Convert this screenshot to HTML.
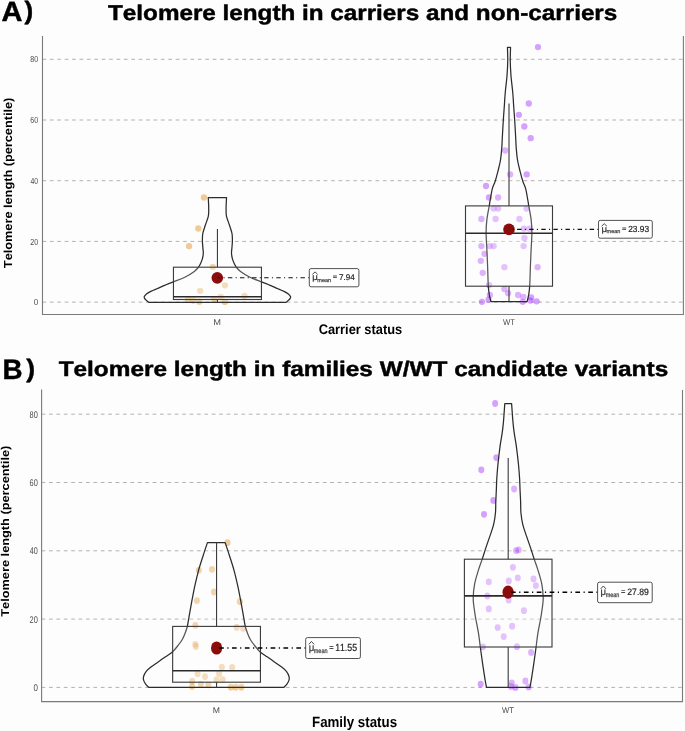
<!DOCTYPE html><html><head><meta charset="utf-8"><style>html,body{margin:0;padding:0;background:#fdfdfd;}svg{display:block;will-change:transform;font-family:"Liberation Sans",sans-serif;font-kerning:none;text-rendering:geometricPrecision;font-variant-ligatures:none;}</style></head><body>
<svg width="685" height="731" viewBox="0 0 685 731">
<rect width="685" height="731" fill="#fdfdfd"/>
<text x="0" y="0" font-size="27.835" font-weight="bold" fill="#000" stroke="#000" stroke-width="0.45" stroke-linejoin="round" transform="translate(1.503,21.375) scale(1.0415,1)">A</text>
<text x="0" y="0" font-size="25.157" font-weight="bold" fill="#000" stroke="#000" stroke-width="0.45" stroke-linejoin="round" transform="translate(24.400,19.354) scale(1.0352,1)">)</text>
<text x="0" y="0" font-size="21.439" font-weight="bold" fill="#000" stroke="#000" stroke-width="0.45" stroke-linejoin="round" transform="translate(108.053,20.000) scale(1.1316,1)">Telomere length in carriers and non-carriers</text>
<text x="0" y="0" font-size="27.980" font-weight="bold" fill="#000" stroke="#000" stroke-width="0.45" stroke-linejoin="round" transform="translate(2.566,378.775) scale(0.9933,1)">B</text>
<text x="0" y="0" font-size="25.265" font-weight="bold" fill="#000" stroke="#000" stroke-width="0.45" stroke-linejoin="round" transform="translate(26.199,377.232) scale(1.0448,1)">)</text>
<text x="0" y="0" font-size="21.148" font-weight="bold" fill="#000" stroke="#000" stroke-width="0.45" stroke-linejoin="round" transform="translate(58.651,375.700) scale(1.1539,1)">Telomere length in families W/WT candidate variants</text>
<line x1="42.50" y1="302.10" x2="682.60" y2="302.10" stroke="#b5b1ab" stroke-width="1" stroke-dasharray="3.7 3.7"/><line x1="42.50" y1="241.40" x2="682.60" y2="241.40" stroke="#b5b1ab" stroke-width="1" stroke-dasharray="3.7 3.7"/><line x1="42.50" y1="180.70" x2="682.60" y2="180.70" stroke="#b5b1ab" stroke-width="1" stroke-dasharray="3.7 3.7"/><line x1="42.50" y1="120.00" x2="682.60" y2="120.00" stroke="#b5b1ab" stroke-width="1" stroke-dasharray="3.7 3.7"/><line x1="42.50" y1="59.30" x2="682.60" y2="59.30" stroke="#b5b1ab" stroke-width="1" stroke-dasharray="3.7 3.7"/>
<text x="0" y="0" font-size="8.757" font-weight="normal" fill="#4d4d4d" transform="translate(33.689,305.214) scale(0.9078,1)">0</text>
<text x="0" y="0" font-size="8.757" font-weight="normal" fill="#4d4d4d" transform="translate(30.246,244.514) scale(0.8038,1)">20</text>
<text x="0" y="0" font-size="8.757" font-weight="normal" fill="#4d4d4d" transform="translate(30.443,183.814) scale(0.7828,1)">40</text>
<text x="0" y="0" font-size="8.757" font-weight="normal" fill="#4d4d4d" transform="translate(30.242,123.114) scale(0.8041,1)">60</text>
<text x="0" y="0" font-size="8.757" font-weight="normal" fill="#4d4d4d" transform="translate(30.296,62.414) scale(0.7984,1)">80</text>
<text x="0" y="0" font-size="8.430" font-weight="normal" fill="#4d4d4d" transform="translate(213.340,325.000) scale(1.0994,1)">M</text>
<text x="0" y="0" font-size="8.430" font-weight="normal" fill="#4d4d4d" transform="translate(503.066,324.800) scale(0.9164,1)">WT</text>
<text x="0" y="0" font-size="13.953" font-weight="bold" fill="#000" transform="translate(318.673,333.800) scale(0.9208,1)">Carrier status</text>
<text x="0" y="0" font-size="11.628" font-weight="bold" fill="#000" transform="translate(11.900,268.143) rotate(-90) scale(1.0967,1)">Telomere length (percentile)</text>
<ellipse cx="203.90" cy="197.50" rx="3.15" ry="3.15" fill="#da8000" fill-opacity="0.4"/><ellipse cx="198.30" cy="228.50" rx="3.15" ry="3.15" fill="#da8000" fill-opacity="0.4"/><ellipse cx="189.10" cy="246.20" rx="3.15" ry="3.15" fill="#da8000" fill-opacity="0.4"/><ellipse cx="212.80" cy="266.90" rx="3.15" ry="3.15" fill="#da8000" fill-opacity="0.4"/><ellipse cx="224.90" cy="285.30" rx="3.15" ry="3.15" fill="#da8000" fill-opacity="0.4"/><ellipse cx="200.10" cy="290.80" rx="3.15" ry="3.15" fill="#da8000" fill-opacity="0.4"/><ellipse cx="244.50" cy="296.00" rx="3.15" ry="3.15" fill="#da8000" fill-opacity="0.4"/><ellipse cx="188.00" cy="299.40" rx="3.15" ry="3.15" fill="#da8000" fill-opacity="0.4"/><ellipse cx="193.30" cy="300.60" rx="3.15" ry="3.15" fill="#da8000" fill-opacity="0.4"/><ellipse cx="199.30" cy="301.70" rx="3.15" ry="3.15" fill="#da8000" fill-opacity="0.4"/><ellipse cx="214.10" cy="298.90" rx="3.15" ry="3.15" fill="#da8000" fill-opacity="0.4"/><ellipse cx="220.70" cy="297.00" rx="3.15" ry="3.15" fill="#da8000" fill-opacity="0.4"/><ellipse cx="224.90" cy="301.90" rx="3.15" ry="3.15" fill="#da8000" fill-opacity="0.4"/>
<ellipse cx="538.00" cy="47.10" rx="3.15" ry="3.15" fill="#9814ff" fill-opacity="0.4"/><ellipse cx="528.80" cy="103.50" rx="3.15" ry="3.15" fill="#9814ff" fill-opacity="0.4"/><ellipse cx="518.90" cy="114.80" rx="3.15" ry="3.15" fill="#9814ff" fill-opacity="0.4"/><ellipse cx="524.30" cy="126.50" rx="3.15" ry="3.15" fill="#9814ff" fill-opacity="0.4"/><ellipse cx="530.70" cy="138.20" rx="3.15" ry="3.15" fill="#9814ff" fill-opacity="0.4"/><ellipse cx="505.20" cy="150.50" rx="3.15" ry="3.15" fill="#9814ff" fill-opacity="0.4"/><ellipse cx="510.10" cy="174.40" rx="3.15" ry="3.15" fill="#9814ff" fill-opacity="0.4"/><ellipse cx="526.70" cy="174.40" rx="3.15" ry="3.15" fill="#9814ff" fill-opacity="0.4"/><ellipse cx="486.00" cy="186.00" rx="3.15" ry="3.15" fill="#9814ff" fill-opacity="0.4"/><ellipse cx="489.00" cy="197.50" rx="3.15" ry="3.15" fill="#9814ff" fill-opacity="0.4"/><ellipse cx="498.10" cy="197.50" rx="3.15" ry="3.15" fill="#9814ff" fill-opacity="0.4"/><ellipse cx="493.60" cy="208.60" rx="3.15" ry="3.15" fill="#9814ff" fill-opacity="0.4"/><ellipse cx="498.20" cy="208.60" rx="3.15" ry="3.15" fill="#9814ff" fill-opacity="0.4"/><ellipse cx="526.60" cy="208.60" rx="3.15" ry="3.15" fill="#9814ff" fill-opacity="0.4"/><ellipse cx="481.40" cy="219.00" rx="3.15" ry="3.15" fill="#9814ff" fill-opacity="0.4"/><ellipse cx="495.60" cy="219.00" rx="3.15" ry="3.15" fill="#9814ff" fill-opacity="0.4"/><ellipse cx="519.40" cy="219.00" rx="3.15" ry="3.15" fill="#9814ff" fill-opacity="0.4"/><ellipse cx="523.90" cy="228.70" rx="3.15" ry="3.15" fill="#9814ff" fill-opacity="0.4"/><ellipse cx="529.50" cy="228.70" rx="3.15" ry="3.15" fill="#9814ff" fill-opacity="0.4"/><ellipse cx="524.40" cy="238.00" rx="3.15" ry="3.15" fill="#9814ff" fill-opacity="0.4"/><ellipse cx="481.40" cy="246.10" rx="3.15" ry="3.15" fill="#9814ff" fill-opacity="0.4"/><ellipse cx="489.70" cy="246.10" rx="3.15" ry="3.15" fill="#9814ff" fill-opacity="0.4"/><ellipse cx="493.60" cy="246.10" rx="3.15" ry="3.15" fill="#9814ff" fill-opacity="0.4"/><ellipse cx="523.60" cy="246.10" rx="3.15" ry="3.15" fill="#9814ff" fill-opacity="0.4"/><ellipse cx="484.50" cy="253.80" rx="3.15" ry="3.15" fill="#9814ff" fill-opacity="0.4"/><ellipse cx="480.80" cy="260.80" rx="3.15" ry="3.15" fill="#9814ff" fill-opacity="0.4"/><ellipse cx="504.40" cy="267.20" rx="3.15" ry="3.15" fill="#9814ff" fill-opacity="0.4"/><ellipse cx="537.60" cy="267.20" rx="3.15" ry="3.15" fill="#9814ff" fill-opacity="0.4"/><ellipse cx="482.70" cy="272.80" rx="3.15" ry="3.15" fill="#9814ff" fill-opacity="0.4"/><ellipse cx="489.10" cy="285.10" rx="3.15" ry="3.15" fill="#9814ff" fill-opacity="0.4"/><ellipse cx="504.40" cy="289.00" rx="3.15" ry="3.15" fill="#9814ff" fill-opacity="0.4"/><ellipse cx="508.10" cy="293.20" rx="3.15" ry="3.15" fill="#9814ff" fill-opacity="0.4"/><ellipse cx="489.90" cy="295.00" rx="3.15" ry="3.15" fill="#9814ff" fill-opacity="0.4"/><ellipse cx="518.10" cy="295.00" rx="3.15" ry="3.15" fill="#9814ff" fill-opacity="0.4"/><ellipse cx="523.30" cy="296.90" rx="3.15" ry="3.15" fill="#9814ff" fill-opacity="0.4"/><ellipse cx="531.10" cy="297.40" rx="3.15" ry="3.15" fill="#9814ff" fill-opacity="0.4"/><ellipse cx="488.60" cy="299.70" rx="3.15" ry="3.15" fill="#9814ff" fill-opacity="0.4"/><ellipse cx="482.00" cy="301.80" rx="3.15" ry="3.15" fill="#9814ff" fill-opacity="0.4"/><ellipse cx="522.70" cy="301.80" rx="3.15" ry="3.15" fill="#9814ff" fill-opacity="0.4"/><ellipse cx="530.40" cy="300.60" rx="3.15" ry="3.15" fill="#9814ff" fill-opacity="0.4"/><ellipse cx="536.60" cy="301.30" rx="3.15" ry="3.15" fill="#9814ff" fill-opacity="0.4"/>
<path d="M208.25,197.60 C208.31,198.67 208.52,201.85 208.60,204.00 C208.68,206.15 208.75,208.45 208.70,210.50 C208.65,212.55 208.87,213.83 208.30,216.30 C207.73,218.77 206.22,222.43 205.30,225.30 C204.38,228.17 203.28,230.90 202.80,233.50 C202.32,236.10 202.38,238.47 202.40,240.90 C202.42,243.33 202.75,246.05 202.90,248.10 C203.05,250.15 203.40,251.37 203.30,253.20 C203.20,255.03 202.82,257.27 202.30,259.10 C201.78,260.93 200.83,262.87 200.20,264.20 C199.57,265.53 199.48,265.88 198.50,267.10 C197.52,268.32 196.58,269.80 194.30,271.50 C192.02,273.20 188.17,275.62 184.80,277.30 C181.43,278.98 176.88,280.52 174.10,281.60 C171.32,282.68 170.07,283.00 168.10,283.80 C166.13,284.60 164.18,285.58 162.30,286.40 C160.42,287.22 158.72,287.87 156.80,288.70 C154.88,289.53 152.53,290.52 150.80,291.40 C149.07,292.28 147.48,293.13 146.40,294.00 C145.32,294.87 144.60,295.87 144.30,296.60 C144.00,297.33 144.25,297.77 144.60,298.40 C144.95,299.03 145.70,299.75 146.40,300.40 C147.10,301.05 148.40,301.98 148.80,302.30 L286.00,302.30 C286.40,301.98 287.70,301.05 288.40,300.40 C289.10,299.75 289.85,299.03 290.20,298.40 C290.55,297.77 290.80,297.33 290.50,296.60 C290.20,295.87 289.48,294.87 288.40,294.00 C287.32,293.13 285.73,292.28 284.00,291.40 C282.27,290.52 279.92,289.53 278.00,288.70 C276.08,287.87 274.38,287.22 272.50,286.40 C270.62,285.58 268.67,284.60 266.70,283.80 C264.73,283.00 263.48,282.68 260.70,281.60 C257.92,280.52 253.37,278.98 250.00,277.30 C246.63,275.62 242.78,273.20 240.50,271.50 C238.22,269.80 237.28,268.32 236.30,267.10 C235.32,265.88 235.23,265.53 234.60,264.20 C233.97,262.87 233.02,260.93 232.50,259.10 C231.98,257.27 231.60,255.03 231.50,253.20 C231.40,251.37 231.75,250.15 231.90,248.10 C232.05,246.05 232.38,243.33 232.40,240.90 C232.42,238.47 232.48,236.10 232.00,233.50 C231.52,230.90 230.42,228.17 229.50,225.30 C228.58,222.43 227.07,218.77 226.50,216.30 C225.93,213.83 226.15,212.55 226.10,210.50 C226.05,208.45 226.12,206.15 226.20,204.00 C226.28,201.85 226.49,198.67 226.55,197.60 Z" fill="#fff" fill-opacity="0.2" stroke="#2c2c2c" stroke-width="1.25" stroke-linejoin="round"/>
<path d="M507.45,47.30 C507.50,49.58 507.82,56.22 507.75,61.00 C507.68,65.78 507.38,71.17 507.00,76.00 C506.62,80.83 505.87,86.27 505.50,90.00 C505.13,93.73 504.98,95.90 504.80,98.40 C504.62,100.90 504.60,102.07 504.40,105.00 C504.20,107.93 503.85,112.33 503.60,116.00 C503.35,119.67 503.12,123.33 502.90,127.00 C502.68,130.67 502.50,134.33 502.30,138.00 C502.10,141.67 502.00,145.33 501.70,149.00 C501.40,152.67 501.10,156.40 500.50,160.00 C499.90,163.60 499.00,167.02 498.10,170.60 C497.20,174.18 496.07,178.47 495.10,181.50 C494.13,184.53 493.12,185.72 492.30,188.80 C491.48,191.88 490.72,197.13 490.20,200.00 C489.68,202.87 489.75,202.77 489.20,206.00 C488.65,209.23 487.42,214.97 486.90,219.40 C486.38,223.83 486.10,227.50 486.10,232.60 C486.10,237.70 486.65,244.38 486.90,250.00 C487.15,255.62 487.37,260.30 487.60,266.30 C487.83,272.30 488.00,281.18 488.30,286.00 C488.60,290.82 488.97,292.60 489.40,295.20 C489.83,297.80 490.65,300.53 490.90,301.60 L527.10,301.60 C527.35,300.53 528.17,297.80 528.60,295.20 C529.03,292.60 529.40,290.82 529.70,286.00 C530.00,281.18 530.17,272.30 530.40,266.30 C530.63,260.30 530.85,255.62 531.10,250.00 C531.35,244.38 531.90,237.70 531.90,232.60 C531.90,227.50 531.62,223.83 531.10,219.40 C530.58,214.97 529.35,209.23 528.80,206.00 C528.25,202.77 528.32,202.87 527.80,200.00 C527.28,197.13 526.52,191.88 525.70,188.80 C524.88,185.72 523.87,184.53 522.90,181.50 C521.93,178.47 520.80,174.18 519.90,170.60 C519.00,167.02 518.10,163.60 517.50,160.00 C516.90,156.40 516.60,152.67 516.30,149.00 C516.00,145.33 515.90,141.67 515.70,138.00 C515.50,134.33 515.32,130.67 515.10,127.00 C514.88,123.33 514.65,119.67 514.40,116.00 C514.15,112.33 513.80,107.93 513.60,105.00 C513.40,102.07 513.38,100.90 513.20,98.40 C513.02,95.90 512.87,93.73 512.50,90.00 C512.13,86.27 511.38,80.83 511.00,76.00 C510.62,71.17 510.32,65.78 510.25,61.00 C510.18,56.22 510.50,49.58 510.55,47.30 Z" fill="#fff" fill-opacity="0.2" stroke="#2c2c2c" stroke-width="1.25" stroke-linejoin="round"/>
<line x1="217.45" y1="229.00" x2="217.45" y2="267.20" stroke="#3c3c3c" stroke-width="1.12"/><line x1="217.45" y1="299.50" x2="217.45" y2="302.30" stroke="#3c3c3c" stroke-width="1.12"/><rect x="173.45" y="267.20" width="88.00" height="32.30" fill="#fff" fill-opacity="0.2" stroke="#3c3c3c" stroke-width="1.12"/><line x1="173.45" y1="296.70" x2="261.45" y2="296.70" stroke="#2a2a2a" stroke-width="1.60"/>
<line x1="509.00" y1="103.50" x2="509.00" y2="205.90" stroke="#3c3c3c" stroke-width="1.12"/><line x1="509.00" y1="286.20" x2="509.00" y2="301.60" stroke="#3c3c3c" stroke-width="1.12"/><rect x="465.50" y="205.90" width="87.00" height="80.30" fill="#fff" fill-opacity="0.2" stroke="#3c3c3c" stroke-width="1.12"/><line x1="465.50" y1="233.20" x2="552.50" y2="233.20" stroke="#2a2a2a" stroke-width="1.60"/>
<ellipse cx="217.30" cy="277.80" rx="5.80" ry="5.90" fill="#8b0d0b"/><line x1="309.30" y1="277.80" x2="218.20" y2="277.80" stroke="#111" stroke-width="1.10" stroke-dasharray="1.10 3.30 4.40 3.30"/><rect x="309.30" y="268.60" width="49.60" height="18.20" rx="1.7" fill="#fff" stroke="#333" stroke-width="0.85"/><path d="M312.40,274.40 L315.05,271.90 L317.70,274.40" fill="none" stroke="#333" stroke-width="0.9"/><text x="0" y="0" font-size="9.025" font-weight="normal" fill="#333" stroke="#333" stroke-width="0.20" stroke-linejoin="round" transform="translate(312.250,279.868) scale(1.0685,1)">μ</text><text x="0" y="0" font-size="5.567" font-weight="normal" fill="#444" stroke="#444" stroke-width="0.25" stroke-linejoin="round" transform="translate(317.359,281.621) scale(0.9890,1)">mean</text><text x="0" y="0" font-size="6.827" font-weight="normal" fill="#333" stroke="#333" stroke-width="0.10" stroke-linejoin="round" transform="translate(332.778,278.997) scale(1.1156,1)">=</text><text x="0" y="0" font-size="8.333" font-weight="normal" fill="#222" stroke="#222" stroke-width="0.20" stroke-linejoin="round" transform="translate(338.985,279.619) scale(0.9712,1)">7.94</text>
<ellipse cx="509.00" cy="229.40" rx="5.80" ry="5.90" fill="#8b0d0b"/><line x1="598.50" y1="229.40" x2="512.00" y2="229.40" stroke="#111" stroke-width="1.10" stroke-dasharray="1.10 3.30 4.40 3.30"/><rect x="598.50" y="220.40" width="53.80" height="17.80" rx="1.7" fill="#fff" stroke="#333" stroke-width="0.85"/><path d="M601.60,226.20 L604.25,223.70 L606.90,226.20" fill="none" stroke="#333" stroke-width="0.9"/><text x="0" y="0" font-size="9.025" font-weight="normal" fill="#333" stroke="#333" stroke-width="0.20" stroke-linejoin="round" transform="translate(601.450,231.668) scale(1.0685,1)">μ</text><text x="0" y="0" font-size="5.567" font-weight="normal" fill="#444" stroke="#444" stroke-width="0.25" stroke-linejoin="round" transform="translate(606.559,233.421) scale(0.9890,1)">mean</text><text x="0" y="0" font-size="6.827" font-weight="normal" fill="#333" stroke="#333" stroke-width="0.10" stroke-linejoin="round" transform="translate(621.978,230.797) scale(1.1156,1)">=</text><text x="0" y="0" font-size="8.757" font-weight="normal" fill="#222" stroke="#222" stroke-width="0.20" stroke-linejoin="round" transform="translate(628.180,231.814) scale(0.9531,1)">23.93</text>
<path d="M42.50,36.00 V314.50 H683.40 V36.00" fill="none" stroke="#7a7a7a" stroke-width="1.1"/>
<line x1="41.60" y1="687.40" x2="681.70" y2="687.40" stroke="#b5b1ab" stroke-width="1" stroke-dasharray="3.7 3.7"/><line x1="41.60" y1="619.10" x2="681.70" y2="619.10" stroke="#b5b1ab" stroke-width="1" stroke-dasharray="3.7 3.7"/><line x1="41.60" y1="550.80" x2="681.70" y2="550.80" stroke="#b5b1ab" stroke-width="1" stroke-dasharray="3.7 3.7"/><line x1="41.60" y1="482.50" x2="681.70" y2="482.50" stroke="#b5b1ab" stroke-width="1" stroke-dasharray="3.7 3.7"/><line x1="41.60" y1="414.20" x2="681.70" y2="414.20" stroke="#b5b1ab" stroke-width="1" stroke-dasharray="3.7 3.7"/>
<text x="0" y="0" font-size="9.746" font-weight="normal" fill="#4d4d4d" transform="translate(33.389,690.805) scale(0.8157,1)">0</text>
<text x="0" y="0" font-size="9.746" font-weight="normal" fill="#4d4d4d" transform="translate(29.526,622.505) scale(0.7623,1)">20</text>
<text x="0" y="0" font-size="9.746" font-weight="normal" fill="#4d4d4d" transform="translate(29.734,554.205) scale(0.7425,1)">40</text>
<text x="0" y="0" font-size="9.746" font-weight="normal" fill="#4d4d4d" transform="translate(29.523,485.905) scale(0.7627,1)">60</text>
<text x="0" y="0" font-size="9.746" font-weight="normal" fill="#4d4d4d" transform="translate(29.579,417.605) scale(0.7573,1)">80</text>
<text x="0" y="0" font-size="8.285" font-weight="normal" fill="#4d4d4d" transform="translate(212.789,712.800) scale(1.0465,1)">M</text>
<text x="0" y="0" font-size="8.285" font-weight="normal" fill="#4d4d4d" transform="translate(502.066,712.800) scale(0.9325,1)">WT</text>
<text x="0" y="0" font-size="14.971" font-weight="bold" fill="#000" transform="translate(312.010,726.500) scale(0.8887,1)">Family status</text>
<text x="0" y="0" font-size="11.337" font-weight="bold" fill="#000" transform="translate(8.800,616.744) rotate(-90) scale(1.1275,1)">Telomere length (percentile)</text>
<ellipse cx="227.50" cy="542.70" rx="3.00" ry="3.40" fill="#da8000" fill-opacity="0.4"/><ellipse cx="198.90" cy="570.30" rx="3.00" ry="3.40" fill="#da8000" fill-opacity="0.4"/><ellipse cx="212.00" cy="569.30" rx="3.00" ry="3.40" fill="#da8000" fill-opacity="0.4"/><ellipse cx="213.90" cy="592.00" rx="3.00" ry="3.40" fill="#da8000" fill-opacity="0.4"/><ellipse cx="196.90" cy="600.60" rx="3.00" ry="3.40" fill="#da8000" fill-opacity="0.4"/><ellipse cx="239.80" cy="601.70" rx="3.00" ry="3.40" fill="#da8000" fill-opacity="0.4"/><ellipse cx="195.30" cy="625.50" rx="3.00" ry="3.40" fill="#da8000" fill-opacity="0.4"/><ellipse cx="236.70" cy="627.40" rx="3.00" ry="3.40" fill="#da8000" fill-opacity="0.4"/><ellipse cx="243.20" cy="628.40" rx="3.00" ry="3.40" fill="#da8000" fill-opacity="0.4"/><ellipse cx="195.30" cy="644.30" rx="3.00" ry="3.40" fill="#da8000" fill-opacity="0.4"/><ellipse cx="195.90" cy="646.50" rx="3.00" ry="3.40" fill="#da8000" fill-opacity="0.4"/><ellipse cx="221.90" cy="667.10" rx="3.00" ry="3.40" fill="#da8000" fill-opacity="0.4"/><ellipse cx="232.10" cy="667.40" rx="3.00" ry="3.40" fill="#da8000" fill-opacity="0.4"/><ellipse cx="197.60" cy="673.70" rx="3.00" ry="3.40" fill="#da8000" fill-opacity="0.4"/><ellipse cx="205.00" cy="676.60" rx="3.00" ry="3.40" fill="#da8000" fill-opacity="0.4"/><ellipse cx="219.10" cy="673.70" rx="3.00" ry="3.40" fill="#da8000" fill-opacity="0.4"/><ellipse cx="216.60" cy="679.90" rx="3.00" ry="3.40" fill="#da8000" fill-opacity="0.4"/><ellipse cx="222.70" cy="679.60" rx="3.00" ry="3.40" fill="#da8000" fill-opacity="0.4"/><ellipse cx="192.10" cy="681.20" rx="3.00" ry="3.40" fill="#da8000" fill-opacity="0.4"/><ellipse cx="192.10" cy="686.30" rx="3.00" ry="3.40" fill="#da8000" fill-opacity="0.4"/><ellipse cx="200.90" cy="684.10" rx="3.00" ry="3.40" fill="#da8000" fill-opacity="0.4"/><ellipse cx="208.40" cy="684.80" rx="3.00" ry="3.40" fill="#da8000" fill-opacity="0.4"/><ellipse cx="230.80" cy="687.20" rx="3.00" ry="3.40" fill="#da8000" fill-opacity="0.4"/><ellipse cx="235.70" cy="687.20" rx="3.00" ry="3.40" fill="#da8000" fill-opacity="0.4"/><ellipse cx="241.30" cy="687.20" rx="3.00" ry="3.40" fill="#da8000" fill-opacity="0.4"/>
<ellipse cx="495.10" cy="403.50" rx="3.00" ry="3.40" fill="#9814ff" fill-opacity="0.4"/><ellipse cx="496.30" cy="457.60" rx="3.00" ry="3.40" fill="#9814ff" fill-opacity="0.4"/><ellipse cx="481.30" cy="469.80" rx="3.00" ry="3.40" fill="#9814ff" fill-opacity="0.4"/><ellipse cx="514.10" cy="489.00" rx="3.00" ry="3.40" fill="#9814ff" fill-opacity="0.4"/><ellipse cx="493.30" cy="500.40" rx="3.00" ry="3.40" fill="#9814ff" fill-opacity="0.4"/><ellipse cx="484.00" cy="514.30" rx="3.00" ry="3.40" fill="#9814ff" fill-opacity="0.4"/><ellipse cx="516.10" cy="550.60" rx="3.00" ry="3.40" fill="#9814ff" fill-opacity="0.4"/><ellipse cx="518.60" cy="549.90" rx="3.00" ry="3.40" fill="#9814ff" fill-opacity="0.4"/><ellipse cx="512.90" cy="567.30" rx="3.00" ry="3.40" fill="#9814ff" fill-opacity="0.4"/><ellipse cx="488.80" cy="581.80" rx="3.00" ry="3.40" fill="#9814ff" fill-opacity="0.4"/><ellipse cx="508.80" cy="580.90" rx="3.00" ry="3.40" fill="#9814ff" fill-opacity="0.4"/><ellipse cx="517.80" cy="577.80" rx="3.00" ry="3.40" fill="#9814ff" fill-opacity="0.4"/><ellipse cx="533.50" cy="578.90" rx="3.00" ry="3.40" fill="#9814ff" fill-opacity="0.4"/><ellipse cx="535.90" cy="585.60" rx="3.00" ry="3.40" fill="#9814ff" fill-opacity="0.4"/><ellipse cx="487.40" cy="596.00" rx="3.00" ry="3.40" fill="#9814ff" fill-opacity="0.4"/><ellipse cx="508.60" cy="600.00" rx="3.00" ry="3.40" fill="#9814ff" fill-opacity="0.4"/><ellipse cx="488.80" cy="608.90" rx="3.00" ry="3.40" fill="#9814ff" fill-opacity="0.4"/><ellipse cx="523.90" cy="610.70" rx="3.00" ry="3.40" fill="#9814ff" fill-opacity="0.4"/><ellipse cx="497.70" cy="627.60" rx="3.00" ry="3.40" fill="#9814ff" fill-opacity="0.4"/><ellipse cx="512.10" cy="626.20" rx="3.00" ry="3.40" fill="#9814ff" fill-opacity="0.4"/><ellipse cx="503.70" cy="636.60" rx="3.00" ry="3.40" fill="#9814ff" fill-opacity="0.4"/><ellipse cx="482.90" cy="646.80" rx="3.00" ry="3.40" fill="#9814ff" fill-opacity="0.4"/><ellipse cx="516.90" cy="646.70" rx="3.00" ry="3.40" fill="#9814ff" fill-opacity="0.4"/><ellipse cx="531.10" cy="652.40" rx="3.00" ry="3.40" fill="#9814ff" fill-opacity="0.4"/><ellipse cx="480.70" cy="684.10" rx="3.00" ry="3.40" fill="#9814ff" fill-opacity="0.4"/><ellipse cx="511.80" cy="682.80" rx="3.00" ry="3.40" fill="#9814ff" fill-opacity="0.4"/><ellipse cx="525.40" cy="681.00" rx="3.00" ry="3.40" fill="#9814ff" fill-opacity="0.4"/><ellipse cx="511.10" cy="686.40" rx="3.00" ry="3.40" fill="#9814ff" fill-opacity="0.4"/><ellipse cx="515.50" cy="687.40" rx="3.00" ry="3.40" fill="#9814ff" fill-opacity="0.4"/><ellipse cx="528.60" cy="686.90" rx="3.00" ry="3.40" fill="#9814ff" fill-opacity="0.4"/>
<path d="M207.45,542.60 C206.77,544.67 204.82,550.42 203.35,555.00 C201.88,559.58 200.04,565.08 198.65,570.10 C197.26,575.12 196.11,580.08 195.00,585.10 C193.89,590.12 192.95,595.18 192.00,600.20 C191.05,605.22 190.08,610.82 189.30,615.20 C188.52,619.58 188.05,623.37 187.30,626.50 C186.55,629.63 185.68,631.75 184.80,634.00 C183.92,636.25 183.13,638.08 182.00,640.00 C180.87,641.92 179.55,643.55 178.00,645.50 C176.45,647.45 174.78,649.82 172.70,651.70 C170.62,653.58 167.92,655.10 165.50,656.80 C163.08,658.50 160.63,660.20 158.20,661.90 C155.77,663.60 152.90,665.42 150.90,667.00 C148.90,668.58 147.42,669.82 146.20,671.40 C144.98,672.98 144.03,675.05 143.60,676.50 C143.17,677.95 143.28,678.88 143.60,680.10 C143.92,681.32 144.63,682.58 145.50,683.80 C146.37,685.02 148.25,686.80 148.80,687.40 L283.80,687.40 C284.35,686.80 286.23,685.02 287.10,683.80 C287.97,682.58 288.68,681.32 289.00,680.10 C289.32,678.88 289.43,677.95 289.00,676.50 C288.57,675.05 287.62,672.98 286.40,671.40 C285.18,669.82 283.70,668.58 281.70,667.00 C279.70,665.42 276.83,663.60 274.40,661.90 C271.97,660.20 269.52,658.50 267.10,656.80 C264.68,655.10 261.98,653.58 259.90,651.70 C257.82,649.82 256.15,647.45 254.60,645.50 C253.05,643.55 251.73,641.92 250.60,640.00 C249.47,638.08 248.68,636.25 247.80,634.00 C246.92,631.75 246.05,629.63 245.30,626.50 C244.55,623.37 244.08,619.58 243.30,615.20 C242.52,610.82 241.55,605.22 240.60,600.20 C239.65,595.18 238.71,590.12 237.60,585.10 C236.49,580.08 235.34,575.12 233.95,570.10 C232.56,565.08 230.72,559.58 229.25,555.00 C227.78,550.42 225.83,544.67 225.15,542.60 Z" fill="#fff" fill-opacity="0.2" stroke="#2c2c2c" stroke-width="1.25" stroke-linejoin="round"/>
<path d="M504.80,403.50 C504.57,406.57 503.88,417.00 503.45,421.90 C503.02,426.80 502.71,429.25 502.20,432.90 C501.69,436.55 500.93,440.15 500.40,443.80 C499.87,447.45 499.43,451.15 499.00,454.80 C498.57,458.45 498.17,461.75 497.80,465.70 C497.43,469.65 497.04,474.50 496.80,478.50 C496.56,482.50 496.52,485.88 496.35,489.70 C496.18,493.52 495.95,497.52 495.80,501.40 C495.65,505.28 495.82,509.12 495.45,513.00 C495.08,516.88 494.54,520.80 493.60,524.70 C492.66,528.60 491.11,532.50 489.80,536.40 C488.49,540.30 486.98,544.40 485.75,548.10 C484.52,551.80 483.59,555.02 482.40,558.60 C481.21,562.18 479.90,565.33 478.60,569.60 C477.30,573.87 475.50,579.33 474.60,584.20 C473.70,589.07 473.15,593.93 473.20,598.80 C473.25,603.67 474.43,609.87 474.90,613.40 C475.37,616.93 475.38,616.60 476.00,620.00 C476.62,623.40 477.88,629.30 478.60,633.80 C479.32,638.30 479.62,642.00 480.30,647.00 C480.98,652.00 481.89,658.57 482.65,663.80 C483.41,669.03 484.22,674.48 484.85,678.40 C485.48,682.32 486.18,685.82 486.45,687.30 L529.95,687.30 C530.22,685.82 530.92,682.32 531.55,678.40 C532.18,674.48 532.99,669.03 533.75,663.80 C534.51,658.57 535.43,652.00 536.10,647.00 C536.77,642.00 537.08,638.30 537.80,633.80 C538.52,629.30 539.78,623.40 540.40,620.00 C541.02,616.60 541.03,616.93 541.50,613.40 C541.97,609.87 543.15,603.67 543.20,598.80 C543.25,593.93 542.70,589.07 541.80,584.20 C540.90,579.33 539.10,573.87 537.80,569.60 C536.50,565.33 535.19,562.18 534.00,558.60 C532.81,555.02 531.88,551.80 530.65,548.10 C529.42,544.40 527.91,540.30 526.60,536.40 C525.29,532.50 523.74,528.60 522.80,524.70 C521.86,520.80 521.32,516.88 520.95,513.00 C520.58,509.12 520.75,505.28 520.60,501.40 C520.45,497.52 520.22,493.52 520.05,489.70 C519.88,485.88 519.84,482.50 519.60,478.50 C519.36,474.50 518.97,469.65 518.60,465.70 C518.23,461.75 517.83,458.45 517.40,454.80 C516.97,451.15 516.53,447.45 516.00,443.80 C515.47,440.15 514.71,436.55 514.20,432.90 C513.69,429.25 513.38,426.80 512.95,421.90 C512.52,417.00 511.82,406.57 511.60,403.50 Z" fill="#fff" fill-opacity="0.2" stroke="#2c2c2c" stroke-width="1.25" stroke-linejoin="round"/>
<line x1="216.55" y1="542.60" x2="216.55" y2="626.40" stroke="#3c3c3c" stroke-width="1.12"/><line x1="216.55" y1="682.20" x2="216.55" y2="687.40" stroke="#3c3c3c" stroke-width="1.12"/><rect x="172.65" y="626.40" width="87.80" height="55.80" fill="#fff" fill-opacity="0.2" stroke="#3c3c3c" stroke-width="1.12"/><line x1="172.65" y1="670.70" x2="260.45" y2="670.70" stroke="#2a2a2a" stroke-width="1.60"/>
<line x1="508.20" y1="458.10" x2="508.20" y2="559.20" stroke="#3c3c3c" stroke-width="1.12"/><line x1="508.20" y1="647.00" x2="508.20" y2="687.30" stroke="#3c3c3c" stroke-width="1.12"/><rect x="464.40" y="559.20" width="87.60" height="87.80" fill="#fff" fill-opacity="0.2" stroke="#3c3c3c" stroke-width="1.12"/><line x1="464.40" y1="595.90" x2="552.00" y2="595.90" stroke="#2a2a2a" stroke-width="1.60"/>
<ellipse cx="216.60" cy="648.00" rx="5.60" ry="6.60" fill="#8b0d0b"/><line x1="305.70" y1="648.00" x2="219.20" y2="648.00" stroke="#000" stroke-width="1.35" stroke-dasharray="1.17 3.51 4.68 3.51"/><rect x="305.70" y="637.60" width="54.70" height="20.90" rx="1.7" fill="#fff" stroke="#333" stroke-width="0.85"/><path d="M308.80,644.39 L311.45,641.46 L314.10,644.39" fill="none" stroke="#333" stroke-width="0.9"/><text x="0" y="0" font-size="10.607" font-weight="normal" fill="#333" stroke="#333" stroke-width="0.20" stroke-linejoin="round" transform="translate(308.650,650.792) scale(0.9092,1)">μ</text><text x="0" y="0" font-size="6.591" font-weight="normal" fill="#444" stroke="#444" stroke-width="0.25" stroke-linejoin="round" transform="translate(313.759,652.855) scale(0.8354,1)">mean</text><text x="0" y="0" font-size="8.040" font-weight="normal" fill="#333" stroke="#333" stroke-width="0.10" stroke-linejoin="round" transform="translate(329.178,649.781) scale(0.9472,1)">=</text><text x="0" y="0" font-size="10.319" font-weight="normal" fill="#222" stroke="#222" stroke-width="0.20" stroke-linejoin="round" transform="translate(335.132,650.899) scale(0.8495,1)">11.55</text>
<ellipse cx="508.10" cy="592.20" rx="5.60" ry="6.60" fill="#8b0d0b"/><line x1="597.60" y1="592.20" x2="511.20" y2="592.20" stroke="#000" stroke-width="1.35" stroke-dasharray="1.17 3.51 4.68 3.51"/><rect x="597.60" y="582.20" width="54.60" height="20.50" rx="1.7" fill="#fff" stroke="#333" stroke-width="0.85"/><path d="M600.70,588.87 L603.35,586.00 L606.00,588.87" fill="none" stroke="#333" stroke-width="0.9"/><text x="0" y="0" font-size="10.421" font-weight="normal" fill="#333" stroke="#333" stroke-width="0.20" stroke-linejoin="round" transform="translate(600.550,595.165) scale(0.9254,1)">μ</text><text x="0" y="0" font-size="6.471" font-weight="normal" fill="#444" stroke="#444" stroke-width="0.25" stroke-linejoin="round" transform="translate(605.659,597.192) scale(0.8509,1)">mean</text><text x="0" y="0" font-size="7.897" font-weight="normal" fill="#333" stroke="#333" stroke-width="0.10" stroke-linejoin="round" transform="translate(621.078,594.171) scale(0.9644,1)">=</text><text x="0" y="0" font-size="9.322" font-weight="normal" fill="#222" stroke="#222" stroke-width="0.20" stroke-linejoin="round" transform="translate(627.265,594.709) scale(0.9279,1)">27.89</text>
<path d="M41.60,389.60 V701.60 H682.50 V390.10" fill="none" stroke="#7a7a7a" stroke-width="1.1"/>
</svg></body></html>
